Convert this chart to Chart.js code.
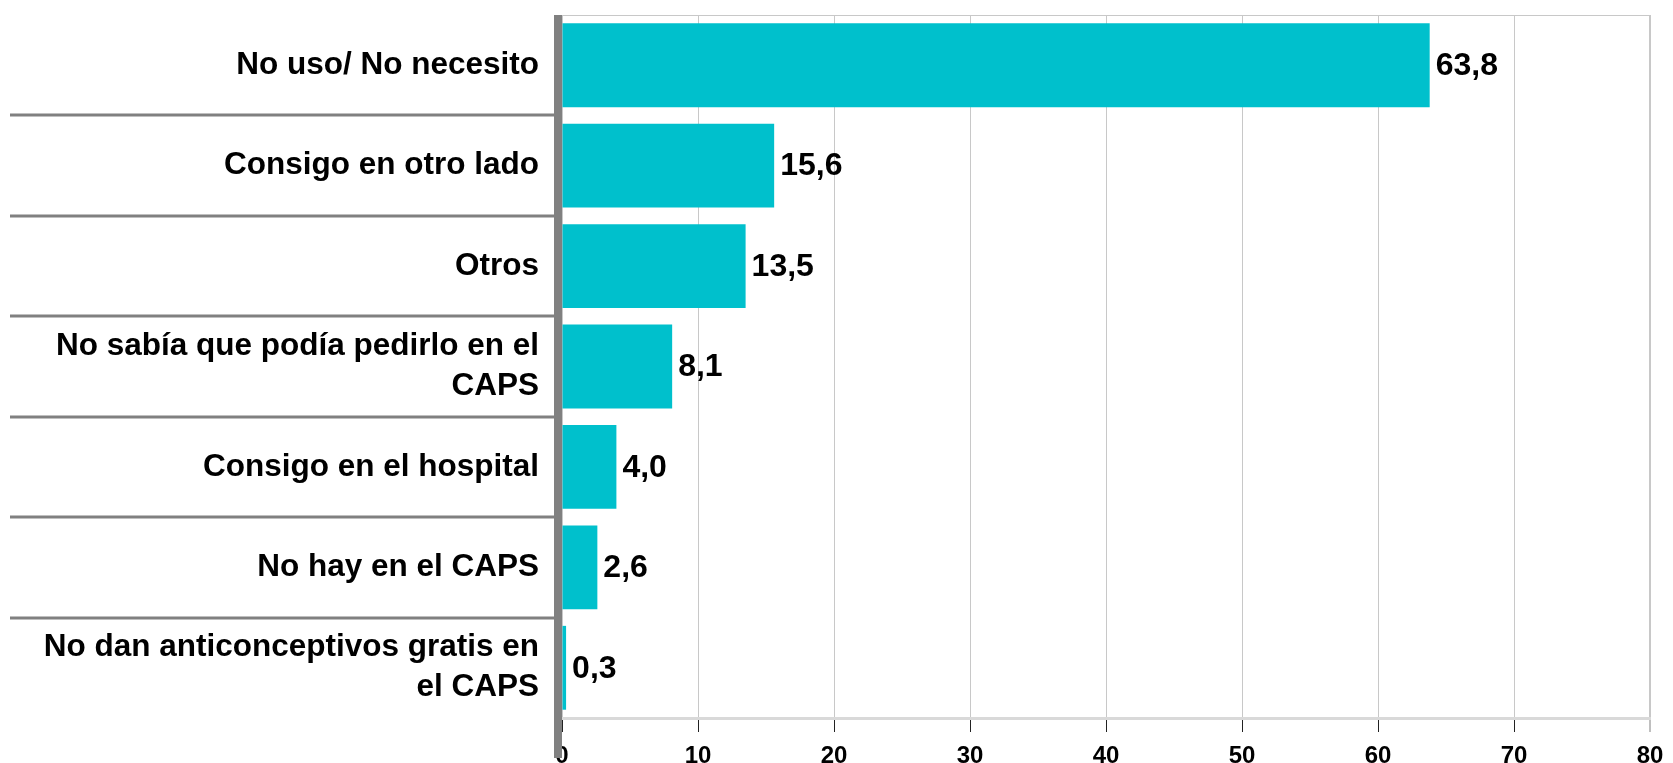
<!DOCTYPE html>
<html>
<head>
<meta charset="utf-8">
<script src="https://cdn.jsdelivr.net/npm/chart.js@4"></script>
<style>
  html, body { margin: 0; padding: 0; background: #fff; }
  #wrap { width: 1673px; height: 763px; }
</style>
</head>
<body>
<div id="wrap"><canvas id="c" width="1673" height="763"></canvas></div>
<script>
const categories = [
  'No uso/ No necesito',
  'Consigo en otro lado',
  'Otros',
  ['No sabía que podía pedirlo en el', 'CAPS'],
  'Consigo en el hospital',
  'No hay en el CAPS',
  ['No dan anticonceptivos gratis en', 'el CAPS'],
];
const values = [63.8, 15.6, 13.5, 8.1, 4.0, 2.6, 0.3];
const xTicks = [0, 10, 20, 30, 40, 50, 60, 70, 80];

const FONT = "'Liberation Sans', Arial, sans-serif";
const BAR = '#00c0cc';

// value labels to the right of each bar
const valueLabels = {
  id: 'valueLabels',
  afterDatasetsDraw(chart) {
    const ctx = chart.ctx;
    const meta = chart.getDatasetMeta(0);
    ctx.save();
    ctx.font = 'bold 32px ' + FONT;
    ctx.fillStyle = '#000';
    ctx.textAlign = 'left';
    ctx.textBaseline = 'middle';
    meta.data.forEach((bar, i) => {
      ctx.fillText(values[i].toFixed(1).replace('.', ','), bar.x + 6, bar.y + 1);
    });
    ctx.restore();
  },
};

// x tick labels, row rules in the label column, top border and the thick axis line
const frame = {
  id: 'frame',
  afterDraw(chart) {
    const ctx = chart.ctx;
    const x = chart.scales.x;
    const y = chart.scales.y;
    const area = chart.chartArea;
    ctx.save();

    ctx.font = 'bold 24px ' + FONT;
    ctx.fillStyle = '#000';
    ctx.textAlign = 'center';
    ctx.textBaseline = 'alphabetic';
    xTicks.forEach((v) => ctx.fillText(String(v), x.getPixelForValue(v), 763));

    ctx.strokeStyle = '#c8c8c8';
    ctx.lineWidth = 1;
    ctx.beginPath();
    ctx.moveTo(area.left, area.top + 0.5);
    ctx.lineTo(area.right, area.top + 0.5);
    ctx.stroke();

    ctx.strokeStyle = '#808080';
    ctx.lineWidth = 3;
    for (let i = 1; i < categories.length; i++) {
      const py = Math.round((y.getPixelForValue(i - 1) + y.getPixelForValue(i)) / 2);
      ctx.beginPath();
      ctx.moveTo(10, py);
      ctx.lineTo(area.left, py);
      ctx.stroke();
    }

    ctx.lineWidth = 8;
    ctx.beginPath();
    ctx.moveTo(area.left - 4, area.top);
    ctx.lineTo(area.left - 4, 758);
    ctx.stroke();
    ctx.restore();
  },
};

new Chart(document.getElementById('c').getContext('2d'), {
  type: 'bar',
  data: {
    labels: categories,
    datasets: [{
      data: values,
      backgroundColor: BAR,
      borderWidth: 0,
      categoryPercentage: 1,
      barPercentage: 0.835,
    }],
  },
  options: {
    indexAxis: 'y',
    responsive: false,
    animation: false,
    layout: { padding: { top: 15, right: 23, left: 0, bottom: 0 } },
    plugins: { legend: { display: false }, tooltip: { enabled: false } },
    scales: {
      x: {
        min: 0,
        max: 80,
        afterBuildTicks(scale) { scale.ticks = xTicks.map((v) => ({ value: v })); },
        afterFit(scale) { scale.height = 45; },
        border: { color: '#d9d9d9', width: 3 },
        grid: {
          color: '#c8c8c8',
          lineWidth: (c) => (c.tick && c.tick.value === 80 ? 2 : 1),
          tickColor: (c) => (c.tick && c.tick.value === 80 ? '#808080' : '#222'),
          tickWidth: 1,
          tickLength: 14,
        },
        ticks: { display: false },
      },
      y: {
        afterFit(scale) {
          scale.width = 562;
          scale.paddingTop = 0;
          scale.paddingBottom = 0;
        },
        border: { display: false },
        grid: { display: false, drawTicks: false },
        ticks: {
          color: '#000',
          padding: 23,
          font: { family: FONT, size: 31.5, weight: 'bold', lineHeight: 1.27 },
        },
      },
    },
  },
  plugins: [valueLabels, frame],
});
</script>
</body>
</html>
